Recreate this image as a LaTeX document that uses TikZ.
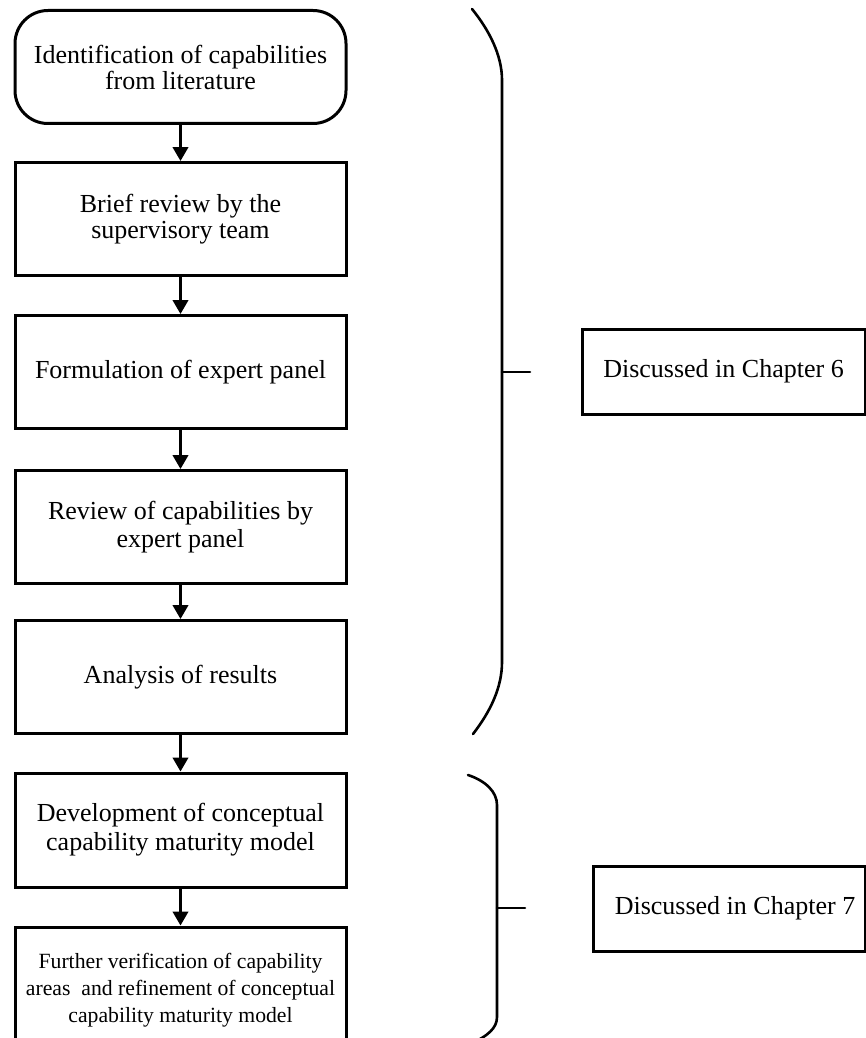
\documentclass[tikz,border=0pt]{standalone}
\usepackage{fontspec}
\setmainfont{Liberation Serif}
\usetikzlibrary{arrows.meta}
\begin{document}
\begin{tikzpicture}[x=1pt,y=-1pt,
  every node/.style={font=\fontsize{26}{26}\selectfont},
  stepbox/.style={draw, line width=3pt, minimum width=331pt, minimum height=113pt,
    inner sep=0pt, align=center},
  startbox/.style={stepbox, rounded corners=33pt},
  notebox/.style={draw, line width=3pt, minimum height=85pt, inner sep=0pt, align=center},
  flow/.style={line width=2.6pt, -{Triangle[width=15.5pt,length=14pt]}},
  brace/.style={line width=2.6pt, line cap=round}]
\useasboundingbox (0,0) rectangle (866,1038);
\clip (0,0) rectangle (866,1038);

% process steps
\node[startbox, font=\fontsize{26}{26}\selectfont] (s1) at (180.5,67)
  {Identification of capabilities\\from literature};
\node[stepbox] (s2) at (180.5,219) {Brief review by the\\supervisory team};
\node[stepbox] (s3) at (180.5,372) {Formulation of expert panel};
\node[stepbox, font=\fontsize{26}{28}\selectfont] (s4) at (180.5,527)
  {Review of capabilities by\\expert panel};
\node[stepbox] (s5) at (180.5,677) {Analysis of results};
\node[stepbox, minimum height=114pt, font=\fontsize{26}{29}\selectfont] (s6) at (180.5,830)
  {Development of conceptual\\capability maturity model};
\node[stepbox, minimum height=126pt, font=\fontsize{21.7}{27}\selectfont] (s7) at (180.5,990)
  {Further verification of capability\\areas\ \ and refinement of conceptual\\capability maturity model};

% flow arrows
\draw[flow] (s1.south) -- (s2.north);
\draw[flow] (s2.south) -- (s3.north);
\draw[flow] (s3.south) -- (s4.north);
\draw[flow] (s4.south) -- (s5.north);
\draw[flow] (s5.south) -- (s6.north);
\draw[flow] (s6.south) -- (s7.north);

% chapter notes
\node[notebox, minimum width=283pt] (c6) at (723.5,371.5) {Discussed in Chapter 6};
\node[notebox, minimum width=272pt] (c7) at (729,908.5) {\hspace*{12pt}Discussed in Chapter 7};

% brace grouping the first five steps
\draw[brace] (472,9) .. controls (489,30) and (502,55) .. (502,80)
  -- (502,662) .. controls (502,688) and (490,712) .. (473,734);
\draw[brace] (502,372) -- (530,372);

% brace grouping the last two steps
\draw[brace] (468,775) .. controls (486,781) and (497,792) .. (497,805)
  -- (497,1017) .. controls (497,1028) and (488,1036) .. (470,1044);
\draw[brace] (497,908) -- (525,908);
\end{tikzpicture}
\end{document}
